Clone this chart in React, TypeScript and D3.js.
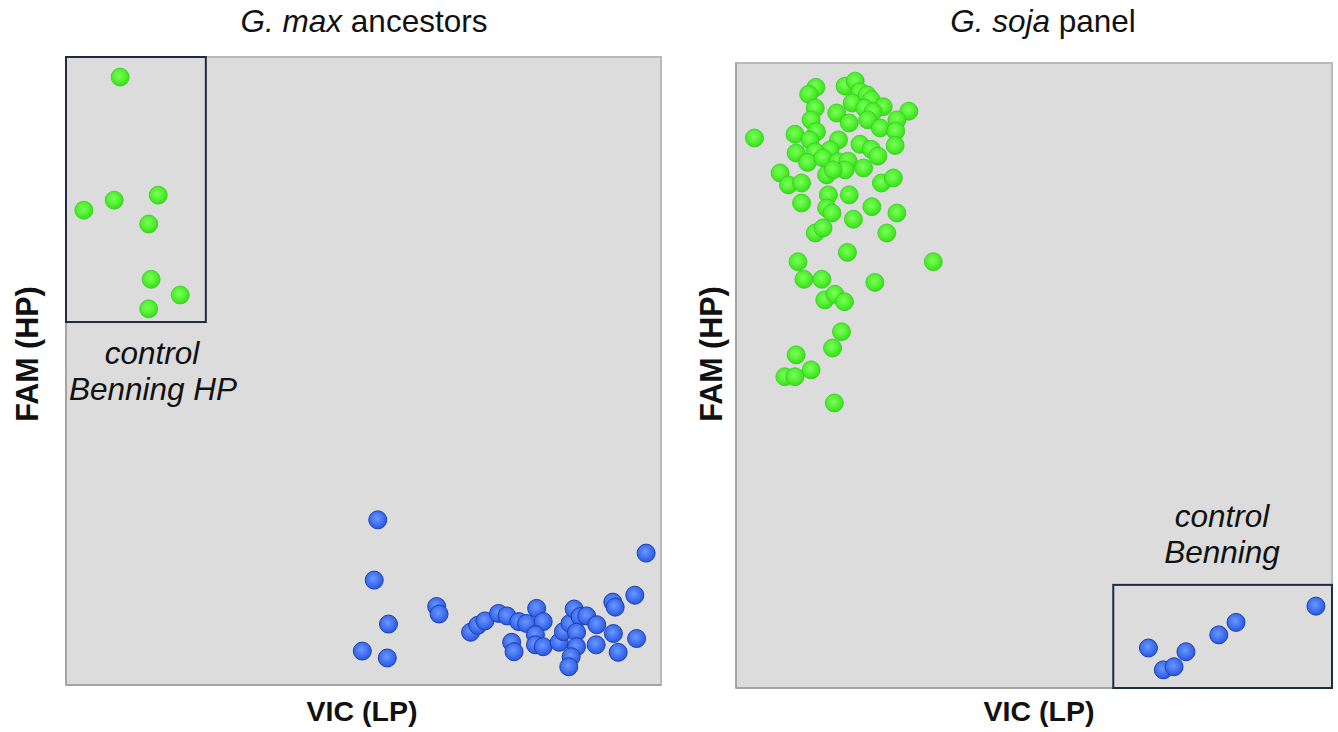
import React from "react";
import * as d3 from "d3";

// ---- Data (relative fluorescence, 0-100 scale) ----
// Left panel: G. max ancestors
const maxControlHP_VIC = [9.1, 3.0, 8.1, 15.5, 13.9, 14.3, 19.2, 13.9];
const maxControlHP_FAM = [96.8, 75.6, 77.2, 78.0, 73.4, 64.6, 62.1, 59.9];

const maxAncestors_VIC = [
  52.4, 51.8, 54.2, 49.8, 54.0, 62.3, 62.7, 68.0, 69.2, 70.4, 72.7, 74.1, 76.1, 77.4,
  74.9, 75.3, 79.1, 80.2, 78.9, 78.9, 80.2, 82.9, 83.6, 84.7, 85.4, 86.4, 87.5, 85.8,
  85.8, 84.9, 84.5, 89.2, 89.1, 91.9, 92.3, 95.6, 92.0, 92.8, 95.9, 97.5,
];
const maxAncestors_FAM = [
  26.3, 16.7, 9.7, 5.4, 4.3, 12.5, 11.3, 8.4, 9.5, 10.2, 11.4, 11.0, 10.1, 9.8,
  6.8, 5.3, 12.2, 10.1, 8.0, 6.4, 6.1, 6.8, 8.5, 9.8, 12.1, 10.9, 11.0, 8.4,
  6.1, 4.5, 2.9, 9.6, 6.4, 13.2, 12.4, 14.3, 8.2, 5.2, 7.4, 21.0,
];

// Right panel: G. soja panel
const sojaPanel_VIC = [
  3.1, 13.4, 12.2, 18.3, 20.0, 20.8, 22.0, 22.7, 24.7, 29.0, 19.5, 21.6, 23.0, 13.3,
  16.9, 19.0, 12.6, 22.1, 24.2, 27.0, 26.8, 9.9, 13.5, 12.4, 17.2, 15.8, 20.8, 22.7,
  23.8, 26.7, 10.1, 13.3, 12.0, 14.6, 17.1, 18.8, 18.3, 15.2, 16.3, 21.4, 7.4, 8.8,
  11.0, 24.4, 26.4, 11.0, 15.5, 19.0, 15.2, 16.1, 22.8, 27.0, 19.7, 13.3, 14.6, 25.3,
  18.7, 10.4, 33.1, 11.4, 14.4, 23.3, 14.9, 16.6, 18.2, 17.7, 16.2, 10.1, 8.2, 9.9,
  12.6, 16.5,
];
const sojaPanel_FAM = [
  88.0, 96.1, 95.0, 96.3, 97.1, 95.4, 94.9, 94.1, 93.0, 92.3, 93.6, 92.8, 92.2, 92.8,
  92.0, 90.4, 90.9, 90.9, 89.6, 90.9, 89.1, 88.6, 89.0, 87.7, 87.7, 86.1, 87.0, 86.2,
  85.1, 86.8, 85.6, 85.8, 84.1, 84.8, 84.2, 84.3, 82.9, 82.1, 82.9, 83.2, 82.4, 80.5,
  80.8, 80.8, 81.6, 77.6, 78.9, 78.9, 76.8, 76.0, 77.0, 76.0, 75.0, 72.8, 73.6, 72.8,
  69.7, 68.2, 68.2, 65.4, 65.4, 64.9, 62.1, 63.0, 61.8, 57.0, 54.4, 53.3, 49.8, 49.8,
  50.9, 45.6,
];

const sojaControl_VIC = [69.2, 71.7, 73.5, 75.5, 81.0, 83.9, 97.3];
const sojaControl_FAM = [6.4, 2.9, 3.4, 5.8, 8.5, 10.5, 13.1];

// control boxes: [vicMin, vicMax, famMin, famMax]
const maxControlBox = [0, 23.5, 57.8, 100];
const sojaControlBox = [63.3, 100, 0, 16.5];

const FONT = "'Liberation Sans', Arial, Helvetica, sans-serif";

type PanelProps = {
  x: number;
  y: number;
  w: number;
  h: number;
  green: [number[], number[]];
  blue: [number[], number[]];
  box: number[];
  title: React.ReactNode;
  titleX: number;
  xLabelX: number;
  yLabelX: number;
  notes: { text: string; x: number; y: number }[];
};

function Panel(p: PanelProps) {
  const xs = d3.scaleLinear().domain([0, 100]).range([p.x, p.x + p.w]);
  const ys = d3.scaleLinear().domain([0, 100]).range([p.y + p.h, p.y]);
  const r = 9;
  const pts = (arr: [number[], number[]]) => arr[0].map((v, i) => [xs(v), ys(arr[1][i])]);
  const g = pts(p.green);
  const b = pts(p.blue);
  const bx0 = xs(p.box[0]);
  const bx1 = xs(p.box[1]);
  const by0 = ys(p.box[3]);
  const by1 = ys(p.box[2]);
  return (
    <g>
      <rect x={p.x} y={p.y} width={p.w} height={p.h} fill="#dcdcdc" stroke="#b9b9b9" strokeWidth={2} />
      <line x1={p.x} y1={p.y} x2={p.x} y2={p.y + p.h} stroke="#a4a4a4" strokeWidth={2} />
      <line x1={p.x} y1={p.y + p.h} x2={p.x + p.w} y2={p.y + p.h} stroke="#a4a4a4" strokeWidth={2} />
      {g.map(([cx, cy], i) => (
        <circle key={"g" + i} cx={cx} cy={cy} r={r} fill="url(#gGreen)" stroke="#36cc22" strokeWidth={0.8} />
      ))}
      {b.map(([cx, cy], i) => (
        <circle key={"b" + i} cx={cx} cy={cy} r={r} fill="url(#gBlue)" stroke="#1d3fae" strokeWidth={1} />
      ))}
      <rect x={bx0} y={by0} width={bx1 - bx0} height={by1 - by0} fill="none" stroke="#1e2b44" strokeWidth={2} />
      <text x={p.titleX} y={32} textAnchor="middle" fontFamily={FONT} fontSize={31.5} fill="#111">
        {p.title}
      </text>
      <text x={p.xLabelX} y={721} textAnchor="middle" fontFamily={FONT} fontSize={28.5} fontWeight="bold" fill="#111">
        VIC (LP)
      </text>
      <text
        transform={`translate(${p.yLabelX},354) rotate(-90)`}
        textAnchor="middle"
        fontFamily={FONT}
        fontSize={30.5}
        fontWeight="bold"
        fill="#111"
      >
        FAM (HP)
      </text>
      {p.notes.map((n, i) => (
        <text key={i} x={n.x} y={n.y} textAnchor="middle" fontFamily={FONT} fontSize={31.5} fontStyle="italic" fill="#111">
          {n.text}
        </text>
      ))}
    </g>
  );
}

export default function App() {
  return (
    <div style={{ position: "fixed", left: 0, top: 0, width: 1338, height: 732, background: "#fff" }}>
      <svg width={1338} height={732} viewBox="0 0 1338 732">
        <defs>
          <radialGradient id="gGreen" cx="45%" cy="42%" r="60%">
            <stop offset="0%" stopColor="#7dff5e" />
            <stop offset="60%" stopColor="#4ef02c" />
            <stop offset="100%" stopColor="#38d81c" />
          </radialGradient>
          <radialGradient id="gBlue" cx="45%" cy="42%" r="60%">
            <stop offset="0%" stopColor="#6d97ff" />
            <stop offset="60%" stopColor="#3f70f2" />
            <stop offset="100%" stopColor="#2a55d6" />
          </radialGradient>
        </defs>
        <rect x={0} y={0} width={1338} height={732} fill="#fff" />
        <Panel
          x={66}
          y={57}
          w={595}
          h={628}
          green={[maxControlHP_VIC, maxControlHP_FAM]}
          blue={[maxAncestors_VIC, maxAncestors_FAM]}
          box={maxControlBox}
          title={
            <>
              <tspan fontStyle="italic">G. max</tspan> ancestors
            </>
          }
          titleX={364}
          xLabelX={362}
          yLabelX={38}
          notes={[
            { text: "control", x: 152, y: 364 },
            { text: "Benning HP", x: 153, y: 400 },
          ]}
        />
        <Panel
          x={736}
          y={63}
          w={596}
          h={625}
          green={[sojaPanel_VIC, sojaPanel_FAM]}
          blue={[sojaControl_VIC, sojaControl_FAM]}
          box={sojaControlBox}
          title={
            <>
              <tspan fontStyle="italic">G. soja</tspan> panel
            </>
          }
          titleX={1043}
          xLabelX={1039}
          yLabelX={722}
          notes={[
            { text: "control", x: 1222, y: 527 },
            { text: "Benning", x: 1222, y: 563 },
          ]}
        />
      </svg>
    </div>
  );
}
